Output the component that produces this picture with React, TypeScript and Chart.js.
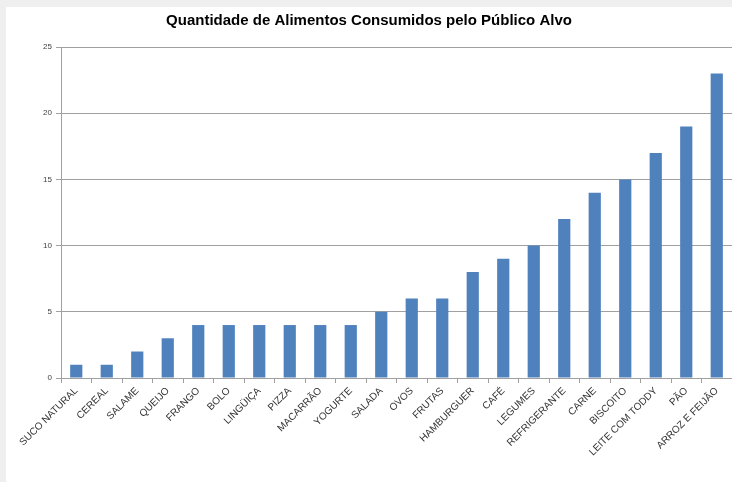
import React, { useEffect, useRef } from "react";
import { Chart, registerables } from "chart.js";

Chart.register(...registerables);

const categories = [
  "SUCO NATURAL", "CEREAL", "SALAME", "QUEIJO", "FRANGO", "BOLO", "LINGÜIÇA",
  "PIZZA", "MACARRÃO", "YOGURTE", "SALADA", "OVOS", "FRUTAS", "HAMBURGUER",
  "CAFÉ", "LEGUMES", "REFRIGERANTE", "CARNE", "BISCOITO", "LEITE COM TODDY",
  "PÃO", "ARROZ E FEIJÃO",
];
const values = [1, 1, 2, 3, 4, 4, 4, 4, 4, 4, 5, 6, 6, 8, 9, 10, 12, 14, 15, 17, 19, 23];
const titleText = "Quantidade de Alimentos Consumidos pelo Público Alvo";

const bgPlugin = {
  id: "bgPlugin",
  beforeDraw(chart: any) {
    const { ctx, width, height } = chart;
    ctx.save();
    ctx.fillStyle = "#efefef";
    ctx.fillRect(0, 0, width, height);
    ctx.fillStyle = "#ffffff";
    ctx.fillRect(6, 7, width - 6, height - 7);
    ctx.restore();
  },
};

export default function App() {
  const ref = useRef<HTMLCanvasElement | null>(null);
  useEffect(() => {
    document.body.style.margin = "0";
    const chart = new Chart(ref.current as HTMLCanvasElement, {
      type: "bar",
      data: {
        labels: categories,
        datasets: [
          {
            data: values,
            backgroundColor: "#4f81bd",
            borderWidth: 0,
            categoryPercentage: 1,
            barPercentage: 0.4,
          },
        ],
      },
      options: {
        animation: false,
        responsive: false,
        layout: { padding: { left: 6, top: 7, right: 0, bottom: 0 } },
        plugins: {
          legend: { display: false },
          tooltip: { enabled: false },
          title: {
            display: true,
            text: titleText,
            color: "#000000",
            font: { family: "'Liberation Sans', Arial, sans-serif", size: 15, weight: "bold" },
            padding: { top: 5, bottom: 17 },
          },
        },
        scales: {
          x: {
            grid: {
              drawOnChartArea: false,
              drawTicks: true,
              tickLength: 5,
              color: "#a0a0a0",
              offset: true,
            },
            border: { color: "#a0a0a0", width: 1 },
            ticks: {
              autoSkip: false,
              maxRotation: 45,
              minRotation: 45,
              padding: 2,
              color: "#333333",
              font: { family: "'Liberation Sans', Arial, sans-serif", size: 10 },
            },
            afterFit(scale: any) {
              scale.height = 104;
            },
          },
          y: {
            min: 0,
            max: 25,
            ticks: {
              stepSize: 5,
              padding: 4,
              color: "#404040",
              font: { family: "'Liberation Sans', Arial, sans-serif", size: 8 },
            },
            grid: { color: "#a0a0a0", tickLength: 5, lineWidth: 1 },
            border: { color: "#a0a0a0", width: 1 },
            afterFit(scale: any) {
              scale.width = 55;
            },
          },
        },
      },
      plugins: [bgPlugin],
    } as any);
    return () => chart.destroy();
  }, []);
  return <canvas ref={ref} width={732} height={482} style={{ display: "block" }} />;
}
